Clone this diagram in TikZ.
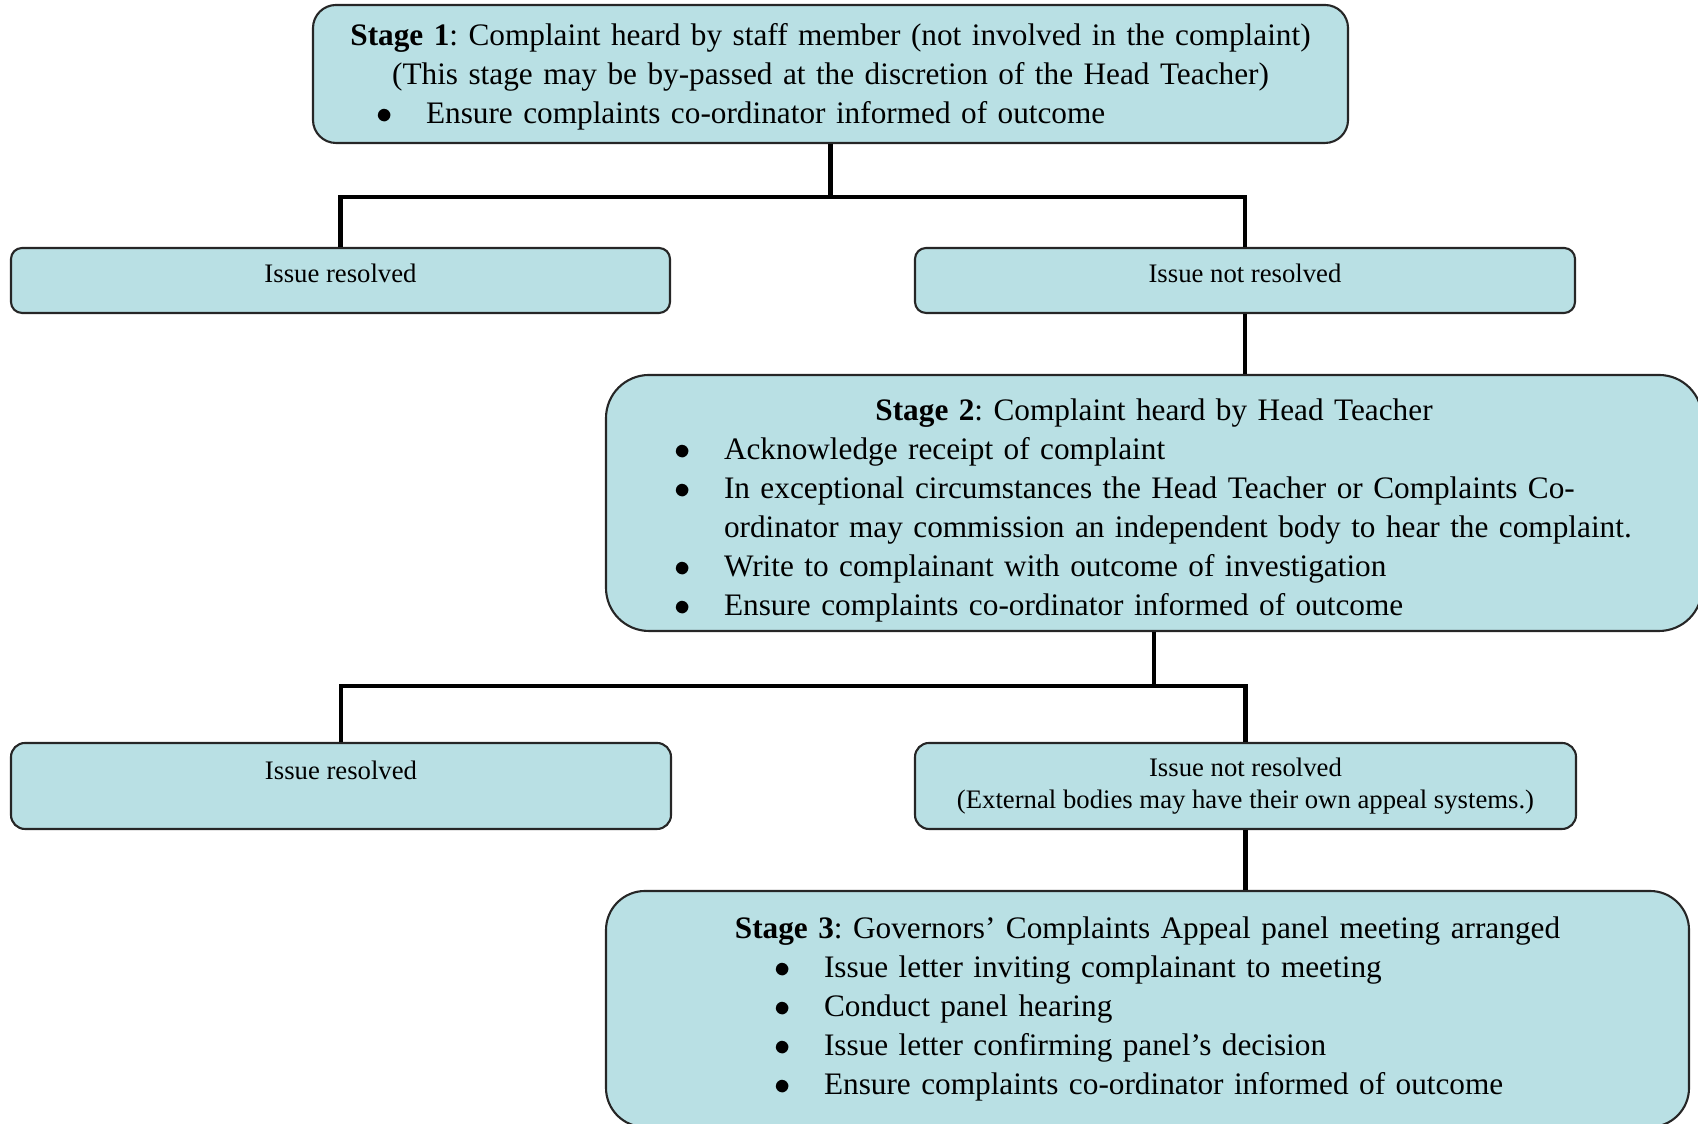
\documentclass[tikz,border=0pt]{standalone}
\usepackage{fontspec}
\setmainfont{Liberation Serif}
\usepackage{tikz}
\usetikzlibrary{positioning}
\frenchspacing
\definecolor{boxteal}{RGB}{185,224,228}
\newcommand{\ctrline}[1]{\makebox[\linewidth]{#1}}
\newcommand{\bulletline}[1]{\mbox{\makebox[0.42cm][l]{\hspace*{-0.08cm}$\bullet$}#1}}
\newcommand{\contline}[1]{\mbox{\hspace*{0.42cm}#1}}
\tikzset{
  stagebox/.style={draw=black!85,line width=0.6pt,fill=boxteal,inner sep=0pt,align=left,font=\fontsize{8.9pt}{11.1pt}\selectfont},
  issuebox/.style={draw=black!85,line width=0.6pt,fill=boxteal,inner sep=0pt,align=center,font=\fontsize{7.6pt}{8.9pt}\selectfont},
  link/.style={line width=1.2pt,black}
}

\begin{document}
\begin{tikzpicture}
\useasboundingbox (0,0) rectangle (16.98,11.24);
\node[stagebox,minimum width=10.35cm,minimum height=1.38cm,text width=8.93cm,text height=0.28cm,rounded corners=0.23cm] (stage1) at (8.305,10.50) {\ctrline{\textbf{Stage 1}: Complaint heard by staff member (not involved in the complaint)}\\ \ctrline{(This stage may be by-passed at the discretion of the Head Teacher)}\\ \bulletline{Ensure complaints co-ordinator informed of outcome}};
\node[issuebox,text height=0.18cm,text depth=0.13cm,minimum width=6.59cm,minimum height=0.65cm,rounded corners=0.11cm] (res1) at (3.405,8.435) {Issue resolved};
\node[issuebox,text height=0.18cm,text depth=0.13cm,minimum width=6.60cm,minimum height=0.65cm,rounded corners=0.11cm] (nres1) at (12.45,8.435) {Issue not resolved};
\node[stagebox,minimum width=10.96cm,minimum height=2.56cm,text width=9.44cm,text height=0.37cm,rounded corners=0.43cm] (stage2) at (11.54,6.21) {\ctrline{\textbf{Stage 2}: Complaint heard by Head Teacher}\\ \bulletline{Acknowledge receipt of complaint}\\ \bulletline{In exceptional circumstances the Head Teacher or Complaints Co-}\\ \contline{ordinator may commission an independent body to hear the complaint.}\\ \bulletline{Write to complainant with outcome of investigation}\\ \bulletline{Ensure complaints co-ordinator informed of outcome}};
\node[issuebox,text height=0.18cm,text depth=0.31cm,minimum width=6.60cm,minimum height=0.86cm,rounded corners=0.14cm] (res2) at (3.41,3.38) {Issue resolved};
\node[issuebox,minimum width=6.61cm,minimum height=0.86cm,rounded corners=0.14cm] (nres2) at (12.455,3.38) {Issue not resolved\\ (External bodies may have their own appeal systems.)};
\node[stagebox,minimum width=10.83cm,minimum height=2.36cm,text width=7.31cm,rounded corners=0.39cm] (stage3) at (11.475,1.15) {\ctrline{\textbf{Stage 3}: Governors’ Complaints Appeal panel meeting arranged}\\ \bulletline{Issue letter inviting complainant to meeting}\\ \bulletline{Conduct panel hearing}\\ \bulletline{Issue letter confirming panel’s decision}\\ \bulletline{Ensure complaints co-ordinator informed of outcome}};

\coordinate[below=0.53cm of stage1.south] (split1);
\coordinate[below=0.54cm of stage2.south] (split2);
\draw[link] (stage1.south) -- (split1);
\draw[link] (res1.north) |- (split1) -| (nres1.north);
\draw[link] (nres1.south) -- (nres1.south |- stage2.north);
\draw[link] (stage2.south) -- (split2);
\draw[link] (res2.north) |- (split2) -| (nres2.north);
\draw[link] (nres2.south) -- (nres2.south |- stage3.north);
\end{tikzpicture}
\end{document}
